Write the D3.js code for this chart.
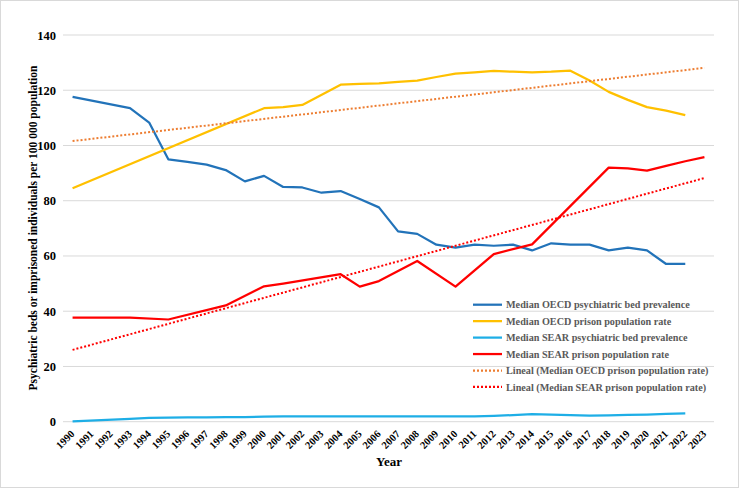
<!DOCTYPE html>
<html>
<head>
<meta charset="utf-8">
<script src="https://cdn.jsdelivr.net/npm/d3@7"></script>
<style>
  body { margin: 0; background: #fff; }
  svg { display: block; font-family: "Liberation Serif", "Times New Roman", serif; }
</style>
</head>
<body>
<svg id="chart"></svg>
<script>
// years on the category axis
var years = d3.range(1990, 2024).map(String);

// series values (null = no data point, line bridges the gap)
var oecdBeds = [117.6, null, null, 113.5, 108.3, 95.0, 94.1, 93.1, 91.1, 87.0,
  89.0, 85.0, 84.8, 82.9, 83.5, 80.6, 77.6, 68.9, 68.0, 64.1,
  63.0, 64.1, 63.7, 64.1, 62.0, 64.6, 64.1, 64.1, 62.0, 63.0,
  62.0, 57.1, 57.1, null];
var oecdPrison = [84.5, null, null, null, null, null, null, null, null, null,
  113.5, 113.9, 114.7, null, 122.0, 122.3, 122.5, 123.0, 123.5, 124.8,
  126.0, 126.5, 127.0, 126.7, 126.5, 126.7, 127.1, 123.5, 119.4, 116.5,
  113.9, 112.6, 111.0, null];
var searBeds = [0.1, null, null, 1.0, 1.4, 1.5, 1.6, 1.6, 1.7, 1.7,
  1.8, 1.9, 1.9, 1.9, 1.9, 1.9, 1.9, 1.9, 1.9, 1.9,
  1.9, 1.9, 2.1, 2.4, 2.7, 2.6, 2.4, 2.2, 2.3, 2.5,
  2.6, 2.8, 3.0, null];
var searPrison = [37.7, null, null, 37.7, null, 37.0, null, null, 42.1, null,
  49.0, 50.0, null, null, 53.4, 48.9, 50.9, null, 58.2, null,
  48.9, null, 60.7, null, 64.2, null, null, null, 92.0, 91.7,
  90.9, 92.6, 94.3, 95.8];

// linear trend lines, start (1990) and end (2023) values
var trendYears = ["1990", "2023"];
var oecdPrisonTrend = [101.6, 128.1];
var searPrisonTrend = [26.0, 88.2];

var yTicks = [0, 20, 40, 60, 80, 100, 120, 140];

var series = [
  { name: "Median OECD psychiatric bed prevalence", values: oecdBeds, color: "#2273b9" },
  { name: "Median OECD prison population rate", values: oecdPrison, color: "#ffc000" },
  { name: "Median SEAR psychiatric bed prevalence", values: searBeds, color: "#1eaee6" },
  { name: "Median SEAR prison population rate", values: searPrison, color: "#ff0000" }
];
var trends = [
  { name: "Lineal (Median OECD prison population rate)", values: oecdPrisonTrend, color: "#ed7d31" },
  { name: "Lineal (Median SEAR prison population rate)", values: searPrisonTrend, color: "#ff0000" }
];

var width = 739, height = 488;
var svg = d3.select("#chart").attr("width", width).attr("height", height);

svg.append("rect")
  .attr("x", 0.5).attr("y", 0.5)
  .attr("width", width - 1).attr("height", height - 1)
  .attr("fill", "#fff").attr("stroke", "#d9d9d9");

var x = d3.scaleBand().domain(years).range([63, 714]);
var y = d3.scaleLinear().domain([0, 140]).range([421.7, 35]);
var cx = function(yr) { return x(yr) + x.bandwidth() / 2; };

// grid lines
svg.append("g")
  .selectAll("line")
  .data(yTicks)
  .enter()
  .append("line")
  .attr("x1", 63).attr("x2", 714)
  .attr("y1", function(d) { return y(d); })
  .attr("y2", function(d) { return y(d); })
  .attr("stroke", "#d9d9d9")
  .attr("stroke-width", 1);

// y axis labels
var yAxis = svg.append("g")
  .attr("transform", "translate(56,0)")
  .call(d3.axisLeft(y).tickValues(yTicks).tickSize(0).tickPadding(0));
yAxis.select(".domain").remove();
yAxis.selectAll("text")
  .attr("font-family", "Liberation Serif, serif")
  .attr("font-size", 12.5)
  .attr("font-weight", "bold")
  .attr("fill", "#000");

// x axis labels
var xAxis = svg.append("g")
  .attr("transform", "translate(0,424)")
  .call(d3.axisBottom(x).tickSize(0).tickPadding(0));
xAxis.select(".domain").remove();
xAxis.selectAll("text")
  .attr("font-family", "Liberation Serif, serif")
  .attr("font-size", 10.5)
  .attr("font-weight", "bold")
  .attr("fill", "#000")
  .attr("text-anchor", "end")
  .attr("dy", "0.35em")
  .attr("transform", "translate(0,8) rotate(-45)");

// axis titles
svg.append("text")
  .attr("x", 389).attr("y", 466)
  .attr("text-anchor", "middle")
  .attr("font-size", 13)
  .attr("font-weight", "bold")
  .text("Year");

svg.append("text")
  .attr("transform", "translate(37,228) rotate(-90)")
  .attr("text-anchor", "middle")
  .attr("font-size", 11.5)
  .attr("font-weight", "bold")
  .text("Psychiatric beds or imprisoned individuals per 100 000 population");

// data lines
var line = d3.line()
  .x(function(d) { return cx(d.year); })
  .y(function(d) { return y(d.value); });

series.forEach(function(s) {
  var pts = years.map(function(yr, i) { return { year: yr, value: s.values[i] }; })
    .filter(function(d) { return d.value !== null; });
  svg.append("path")
    .datum(pts)
    .attr("d", line)
    .attr("fill", "none")
    .attr("stroke", s.color)
    .attr("stroke-width", 2.25)
    .attr("stroke-linejoin", "round");
});

trends.forEach(function(t) {
  var pts = trendYears.map(function(yr, i) { return { year: yr, value: t.values[i] }; });
  svg.append("path")
    .datum(pts)
    .attr("d", line)
    .attr("fill", "none")
    .attr("stroke", t.color)
    .attr("stroke-width", 2)
    .attr("stroke-dasharray", "2,2");
});

// legend
var legendItems = series.concat(trends);
var legend = svg.append("g").attr("transform", "translate(473,304.7)");
legendItems.forEach(function(d, i) {
  var g = legend.append("g").attr("transform", "translate(0," + (i * 16.45) + ")");
  g.append("line")
    .attr("x1", 0).attr("x2", 29)
    .attr("stroke", d.color)
    .attr("stroke-width", 2.25)
    .attr("stroke-dasharray", i > 3 ? "2,2" : null);
  g.append("text")
    .attr("x", 33).attr("dy", "0.35em")
    .attr("font-size", 10.2)
    .attr("font-weight", "bold")
    .attr("fill", "#595959")
    .text(d.name);
});
</script>
</body>
</html>
